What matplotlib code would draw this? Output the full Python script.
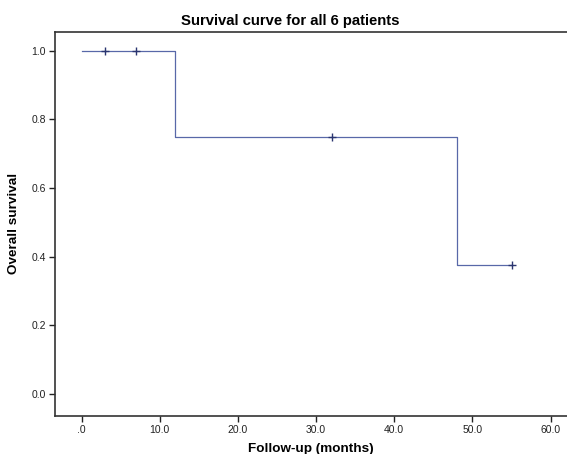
"""Kaplan-Meier survival curve for 6 patients."""

import numpy as np
import matplotlib.pyplot as plt

plt.rcParams['font.family'] = ['Liberation Sans', 'DejaVu Sans']

# follow-up times (months) and status (1 = event, 0 = censored)
months = [3, 7, 12, 32, 48, 55]
status = [0, 0, 1, 0, 1, 0]

x_ticks = [0, 10, 20, 30, 40, 50, 60]
x_labels = [".0", "10.0", "20.0", "30.0", "40.0", "50.0", "60.0"]
y_ticks = [0.0, 0.2, 0.4, 0.6, 0.8, 1.0]
y_labels = ["0.0", "0.2", "0.4", "0.6", "0.8", "1.0"]

# Kaplan-Meier estimate
t = np.array(months, dtype=float)
d = np.array(status)
step_x = [0.0]
step_y = [1.0]
s = 1.0
cens_x, cens_y = [], []
for i in range(len(t)):
    at_risk = len(t) - i
    if d[i] == 1:
        step_x.append(t[i])
        step_y.append(s)
        s = s * (1 - 1 / at_risk)
        step_x.append(t[i])
        step_y.append(s)
    else:
        cens_x.append(t[i])
        cens_y.append(s)
step_x.append(t[-1])
step_y.append(s)

fig = plt.figure(figsize=(5.67, 4.54), dpi=100)
ax = fig.add_axes([0.097, 0.0848, 0.903, 0.8447])

ax.plot(step_x, step_y, color="#5868a8", lw=0.9)
ax.plot(cens_x, cens_y, "+", color="#2a3570", ms=6, mew=1.0)

ax.set_xlim(-3.4, 62.1)
ax.set_ylim(-0.063, 1.055)
ax.set_xticks(x_ticks)
ax.set_xticklabels(x_labels)
ax.set_yticks(y_ticks)
ax.set_yticklabels(y_labels)
ax.tick_params(direction="out", length=4, width=1.0, labelsize=7.5,
               colors="#222222", pad=2.5)
for side in ["left", "bottom", "top"]:
    ax.spines[side].set_linewidth(1.2)
    ax.spines[side].set_color("#333333")
ax.spines["right"].set_visible(False)

ax.set_xlabel("Follow-up (months)", fontsize=9.7, fontweight="bold", labelpad=6)
ax.set_ylabel("Overall survival", fontsize=9.7, fontweight="bold", labelpad=8)
fig.text(0.5115, 0.954, "Survival curve for all 6 patients", ha="center",
         va="center", fontsize=10.7, fontweight="bold")

plt.savefig("out.png", dpi=100)
